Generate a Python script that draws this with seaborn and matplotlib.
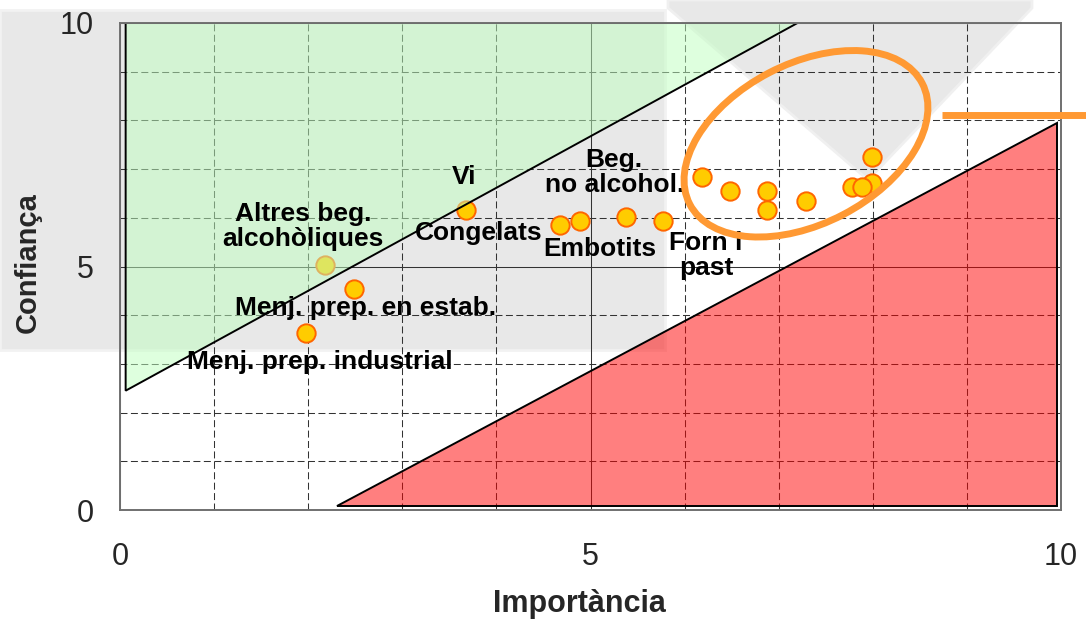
import matplotlib
matplotlib.use("Agg")
import matplotlib.pyplot as plt
import matplotlib.patches as mpatches
import matplotlib.transforms as mtransforms
from matplotlib.lines import Line2D
from matplotlib.ticker import MultipleLocator
import seaborn as sns
import pandas as pd

# ---------------- data ----------------
products = ["Altres beg.\nalcohòliques", "Menj. prep. en estab.", "Menj. prep. industrial",
            "Vi", "Congelats", "Embotits", "Beg.\nno alcohol.", "Forn i\npast",
            "", "", "", "", "", "", "", "", ""]
importancia = [2.18, 2.49, 1.98, 3.68, 4.68, 4.89, 5.38, 5.77,
               6.18, 6.48, 6.88, 6.88, 7.29, 7.78, 7.99, 7.89, 7.99]
confianca = [5.03, 4.54, 3.63, 6.15, 5.85, 5.94, 6.02, 5.94,
             6.84, 6.56, 6.56, 6.15, 6.35, 6.63, 6.72, 6.63, 7.25]

# zones (importance, confidence)
green_zone_x = [0.06, 7.2, 0.06]
green_zone_y = [10.0, 10.0, 2.45]
red_zone_x = [2.31, 9.96, 9.96]
red_zone_y = [0.08, 0.08, 7.95]

x_ticks = [0, 5, 10]
y_ticks = [0, 5, 10]

df = pd.DataFrame({"Importància": importancia, "Confiança": confianca, "label": products})

# ---------------- style ----------------
sns.set_style("white")
plt.rcParams["font.family"] = ["Liberation Sans", "DejaVu Sans"]

W, H = 1086, 620
fig = plt.figure(figsize=(W / 100, H / 100), dpi=100)
fig.patch.set_facecolor("white")

# faint background watermark shapes (figure pixel space)
def fpx(x, y):
    return (x / W, 1 - y / H)

rect = mpatches.Rectangle(fpx(0, 350), 665 / W, 340 / H, transform=fig.transFigure,
                          facecolor="#e8e8e8", edgecolor="#f2f2f2", lw=2, zorder=-10)
fig.add_artist(rect)
shield = mpatches.Polygon([fpx(668, 0), fpx(1032, 0), fpx(1032, 8), fpx(868, 180), fpx(668, 8)],
                          closed=True, transform=fig.transFigure, facecolor="#e8e8e8",
                          edgecolor="#f0f0f0", lw=2, zorder=-10)
fig.add_artist(shield)

ax = fig.add_axes([120 / W, 110 / H, 941 / W, 487 / H])
ax.set_facecolor("none")

# grid
ax.set_xlim(0, 10)
ax.set_ylim(0, 10)
ax.set_xticks(x_ticks)
ax.set_yticks(y_ticks)
ax.xaxis.set_minor_locator(MultipleLocator(1))
ax.yaxis.set_minor_locator(MultipleLocator(1))
ax.set_axisbelow(True)
ax.grid(which="minor", color="#333333", lw=0.75, linestyle=(0, (6.7, 3.3)))
ax.grid(which="major", color="#333333", lw=0.75, linestyle="-")

# points
sns.scatterplot(data=df, x="Importància", y="Confiança", ax=ax, s=175,
                color="#FFCC00", edgecolor="#FF6600", linewidth=1.4, zorder=3, legend=False)

# zones drawn on top (semi-transparent)
green = mpatches.Polygon(list(zip(green_zone_x, green_zone_y)), closed=True,
                         facecolor=(0.75, 1.0, 0.75, 0.5), edgecolor="black", lw=1.4, zorder=4)
ax.add_patch(green)
red = mpatches.Polygon(list(zip(red_zone_x, red_zone_y)), closed=True,
                       facecolor=(1.0, 0.0, 0.0, 0.5), edgecolor="black", lw=1.4, zorder=4)
ax.add_patch(red)

# labels (offsets in pixels relative to point)
label_offsets = {
    "Altres beg.\nalcohòliques": (-22, 39),
    "Menj. prep. en estab.": (11, -19),
    "Menj. prep. industrial": (13, -29),
    "Vi": (-2, 33),
    "Congelats": (-82, -8),
    "Embotits": (20, -28),
    "Beg.\nno alcohol.": (-12, 44),
    "Forn i\npast": (43, -35),
}
for _, r in df.iterrows():
    if r["label"]:
        ax.annotate(r["label"], xy=(r["Importància"], r["Confiança"]),
                    xytext=label_offsets[r["label"]], textcoords="offset pixels",
                    ha="center", va="center", fontsize=19, fontweight="bold",
                    linespacing=1.05, color="black", zorder=6, annotation_clip=False)

# axes styling
for s in ax.spines.values():
    s.set_color("#707070")
    s.set_linewidth(1.4)
    s.set_zorder(5)
ax.tick_params(axis="both", which="major", direction="out", length=7, width=1,
               color="#606060", labelsize=22)
ax.tick_params(axis="x", which="major", pad=16)
ax.tick_params(axis="y", which="major", pad=12)
ax.tick_params(which="minor", length=0)

ax.set_xlabel("Importància", fontsize=22, fontweight="bold")
ax.set_ylabel("Confiança", fontsize=21, fontweight="bold")
ax.xaxis.set_label_coords(0.488, -0.193)
ax.xaxis.label.set_va("center")
ax.yaxis.set_label_coords(-0.098, 0.509)
ax.yaxis.label.set_va("center")

# orange highlight ellipse and line (pixel space)
cx, cy = ax.transData.transform((7.29, 7.52))
ell = mpatches.Ellipse((cx, cy), 262, 160, angle=27.5, transform=mtransforms.IdentityTransform(),
                       facecolor="none", edgecolor="#FF9933", lw=5, zorder=20)
fig.add_artist(ell)
fig.add_artist(Line2D([942 / W, 1.0], [1 - 115 / H, 1 - 115 / H], transform=fig.transFigure,
                      color="#FF9933", lw=5, solid_capstyle="butt", zorder=20))

fig.savefig("out.png", dpi=100)
